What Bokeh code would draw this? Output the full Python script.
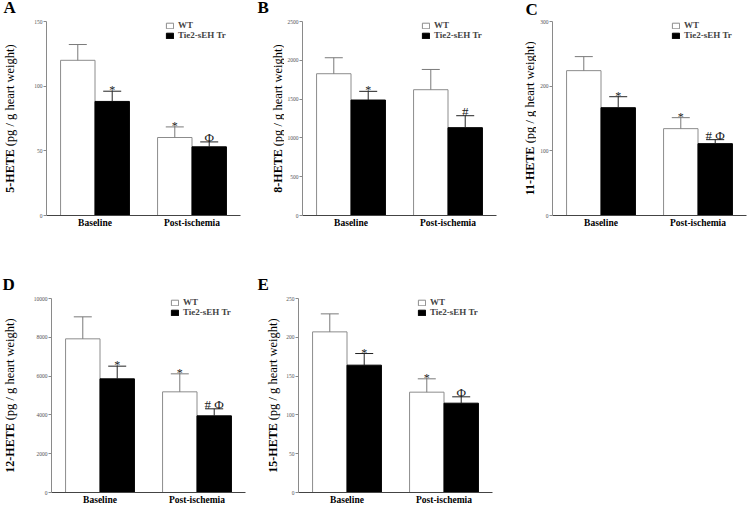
import math
from bokeh.plotting import figure
from bokeh.models import (FactorRange, Range1d, FixedTicker, Legend, LegendItem,
                          Whisker, TeeHead, ColumnDataSource, PrintfTickFormatter)
from bokeh.transform import dodge
from bokeh.layouts import column, row
from bokeh.core.properties import value
from bokeh.embed import file_html
from bokeh.resources import INLINE

# ---------------- data ----------------
groups = ["Baseline", "Post-ischemia"]
series_labels = ["WT", "Tie2-sEH Tr"]
y_unit = "(pg / g heart weight)"
panel_letters = ["A", "B", "C", "D", "E"]
analytes = ["5-HETE", "8-HETE", "11-HETE", "12-HETE", "15-HETE"]

hete5_wt = [120.0, 60.3]
hete5_wt_sem = [12.2, 8.2]
hete5_tg = [88.2, 53.1]
hete5_tg_sem = [7.9, 3.8]
hete5_wt_marks = ["", "*"]
hete5_tg_marks = ["*", "Φ"]
hete5_ticks = [0, 50, 100, 150]

hete8_wt = [1827, 1621]
hete8_wt_sem = [206, 261]
hete8_tg = [1488, 1132]
hete8_tg_sem = [112, 154]
hete8_wt_marks = ["", ""]
hete8_tg_marks = ["*", "#"]
hete8_ticks = [0, 500, 1000, 1500, 2000, 2500]

hete11_wt = [224.0, 134.3]
hete11_wt_sem = [21.7, 17.0]
hete11_tg = [166.7, 111.1]
hete11_tg_sem = [17.0, 6.2]
hete11_wt_marks = ["", "*"]
hete11_tg_marks = ["*", "# Φ"]
hete11_ticks = [0, 100, 200, 300]

hete12_wt = [7921, 5189]
hete12_wt_sem = [1134, 928]
hete12_tg = [5859, 3952]
hete12_tg_sem = [653, 361]
hete12_wt_marks = ["", "*"]
hete12_tg_marks = ["*", "# Φ"]
hete12_ticks = [0, 2000, 4000, 6000, 8000, 10000]

hete15_wt = [207.0, 129.3]
hete15_wt_sem = [23.2, 17.2]
hete15_tg = [164.1, 115.1]
hete15_tg_sem = [15.0, 8.2]
hete15_wt_marks = ["", "*"]
hete15_tg_marks = ["*", "Φ"]
hete15_ticks = [0, 50, 100, 150, 200, 250]

# ---------------- style / layout ----------------
SERIF = "Liberation Serif"
FRAME = 194
BAR_W = 0.355
WT_LINE = "#8c8c8c"
WT_ERR = "#7a7a7a"
TG_ERR = "#222222"
W = 750

# header rows holding the panel letters: (height, [(letter, x, baseline)])
header_top = (19, [("A", 3, 15), ("B", 257, 15), ("C", 525, 17)])
header_bot = (50, [("D", 2, 48), ("E", 257, 48)])

# strip = narrow figure left of each panel holding the rotated y label
geom = {
    "A": dict(strip=26, left=20, top=2, bottom=29, ybx=13),
    "B": dict(strip=40, left=18, top=2, bottom=29, ybx=37),
    "C": dict(strip=36, left=16, top=2, bottom=29, ybx=33),
    "D": dict(strip=29, left=22, top=4, bottom=13, ybx=13),
    "E": dict(strip=33, left=16, top=4, bottom=13, ybx=27),
}

BOLD_W = {"-": 0.333, "H": 0.778, "E": 0.667, "T": 0.667}


def text_width_bold(s, size):
    return sum(BOLD_W.get(c, 0.5) for c in s) * size


def mark_size(m):
    return "12px" if m == "*" else "13px"


def mark_offset(m):
    return -1 if m == "*" else -4


def blank_fig(w, h, xr, yr, **borders):
    f = figure(x_range=xr, y_range=yr, frame_width=w, frame_height=h,
               title=None, x_axis_type=None, y_axis_type=None,
               output_backend="svg", toolbar_location=None,
               background_fill_color="white", border_fill_color="white", **borders)
    f.outline_line_color = None
    f.grid.visible = False
    return f


def make_header(spec):
    h, items = spec
    f = blank_fig(W, h, Range1d(0, W), Range1d(0, h), min_border_left=0,
                  min_border_right=0, min_border_top=0, min_border_bottom=0)
    f.text(x=[it[1] for it in items], y=[h - (it[2] - 7.6) for it in items],
           text=[it[0] for it in items], text_font=value(SERIF), text_font_style="bold",
           text_font_size="17px", text_color="black", text_align="left",
           text_baseline="middle")
    return f


def make_strip(letter, analyte):
    g = geom[letter]
    s = blank_fig(g["strip"], FRAME, Range1d(0, g["strip"]), Range1d(0, FRAME),
                  min_border_left=0, min_border_right=0,
                  min_border_top=g["top"], min_border_bottom=g["bottom"])
    bsize, nsize = 12, 12.5
    bw = text_width_bold(analyte, bsize)
    nw = 8.165 * nsize
    gap = 3
    L = bw + gap + nw
    y0 = FRAME / 2 - L / 2            # bottom end of label, in frame px from bottom
    xc = g["ybx"] - 4
    s.text(x=[xc], y=[y0 + bw / 2], text=[analyte], angle=math.pi / 2,
           text_font=value(SERIF), text_font_style="bold", text_font_size=f"{bsize}px",
           text_color="black", text_align="center", text_baseline="middle")
    s.text(x=[xc], y=[y0 + bw + gap + nw / 2], text=[y_unit], angle=math.pi / 2,
           text_font=value(SERIF), text_font_size=f"{nsize}px",
           text_color="black", text_align="center", text_baseline="middle")
    return s


def make_panel(letter, wt, wt_sem, tg, tg_sem, wt_marks, tg_marks, ticks):
    g = geom[letter]
    ymax = ticks[-1]
    p = figure(x_range=FactorRange(factors=groups, range_padding=0),
               y_range=Range1d(0, ymax),
               frame_width=FRAME, frame_height=FRAME,
               min_border_left=g["left"], min_border_right=4,
               min_border_top=g["top"], min_border_bottom=g["bottom"],
               title=None, output_backend="svg", toolbar_location=None,
               background_fill_color="white", border_fill_color="white")
    p.outline_line_color = None
    p.grid.visible = False

    src = ColumnDataSource(dict(
        g=groups, wt=wt, tg=tg,
        wt_hi=[v + e for v, e in zip(wt, wt_sem)],
        tg_hi=[v + e for v, e in zip(tg, tg_sem)],
        wt_marks=wt_marks, tg_marks=tg_marks,
        wt_fs=[mark_size(m) for m in wt_marks], tg_fs=[mark_size(m) for m in tg_marks],
        wt_off=[mark_offset(m) for m in wt_marks], tg_off=[mark_offset(m) for m in tg_marks],
    ))
    half = BAR_W / 2
    r_wt = p.vbar(x=dodge("g", -half, range=p.x_range), top="wt", width=BAR_W,
                  source=src, fill_color="white", line_color=WT_LINE, line_width=1)
    r_tg = p.vbar(x=dodge("g", half, range=p.x_range), top="tg", width=BAR_W,
                  source=src, fill_color="black", line_color="black", line_width=1)

    p.add_layout(Whisker(source=src, base=dodge("g", -half, range=p.x_range),
                         lower="wt", upper="wt_hi", dimension="height",
                         line_color=WT_ERR, line_width=1, lower_head=None,
                         upper_head=TeeHead(size=18, line_color=WT_ERR, line_width=1),
                         level="overlay"))
    p.add_layout(Whisker(source=src, base=dodge("g", half, range=p.x_range),
                         lower="tg", upper="tg_hi", dimension="height",
                         line_color=TG_ERR, line_width=1, lower_head=None,
                         upper_head=TeeHead(size=18, line_color=TG_ERR, line_width=1),
                         level="overlay"))

    for dx, col_y, col_t, col_fs, col_off in ((-half, "wt_hi", "wt_marks", "wt_fs", "wt_off"),
                                              (half, "tg_hi", "tg_marks", "tg_fs", "tg_off")):
        p.text(x=dodge("g", dx, range=p.x_range), y=col_y, text=col_t, source=src,
               text_align="center", text_baseline="alphabetic", y_offset=col_off,
               text_font=value(SERIF), text_font_size=col_fs, text_color="#222222")

    yax = p.yaxis[0]
    yax.ticker = FixedTicker(ticks=ticks)
    yax.formatter = PrintfTickFormatter(format="%d")
    yax.axis_line_color = "#8a8a8a"
    yax.major_tick_line_color = "#8a8a8a"
    yax.major_tick_out = 3
    yax.major_tick_in = 0
    yax.minor_tick_line_color = None
    yax.major_label_text_font = SERIF
    yax.major_label_text_font_size = "5.5px"
    yax.major_label_text_color = "#555555"
    yax.major_label_standoff = 1

    xax = p.xaxis[0]
    xax.axis_line_color = "#444444"
    xax.major_tick_line_color = None
    xax.major_tick_out = 0
    xax.minor_tick_line_color = None
    xax.major_label_text_font = SERIF
    xax.major_label_text_font_style = "bold"
    xax.major_label_text_font_size = "9.5px"
    xax.major_label_text_color = "black"
    xax.major_label_standoff = 2

    legend = Legend(items=[LegendItem(label=series_labels[0], renderers=[r_wt]),
                           LegendItem(label=series_labels[1], renderers=[r_tg])],
                    location=(119, 175), glyph_width=9, glyph_height=7,
                    label_text_font=SERIF, label_text_font_style="bold",
                    label_text_font_size="9px", label_standoff=4, label_height=8,
                    spacing=0, padding=0, margin=0, border_line_color=None,
                    background_fill_alpha=0)
    p.add_layout(legend)
    return p


panel_data = [
    (hete5_wt, hete5_wt_sem, hete5_tg, hete5_tg_sem, hete5_wt_marks, hete5_tg_marks, hete5_ticks),
    (hete8_wt, hete8_wt_sem, hete8_tg, hete8_tg_sem, hete8_wt_marks, hete8_tg_marks, hete8_ticks),
    (hete11_wt, hete11_wt_sem, hete11_tg, hete11_tg_sem, hete11_wt_marks, hete11_tg_marks, hete11_ticks),
    (hete12_wt, hete12_wt_sem, hete12_tg, hete12_tg_sem, hete12_wt_marks, hete12_tg_marks, hete12_ticks),
    (hete15_wt, hete15_wt_sem, hete15_tg, hete15_tg_sem, hete15_wt_marks, hete15_tg_marks, hete15_ticks),
]

figs = []
for letter, analyte, d in zip(panel_letters, analytes, panel_data):
    figs.append(make_strip(letter, analyte))
    figs.append(make_panel(letter, *d))

layout = column(make_header(header_top), row(*figs[:6]),
                make_header(header_bot), row(*figs[6:]))
open("out.html", "w").write(file_html(layout, INLINE))
